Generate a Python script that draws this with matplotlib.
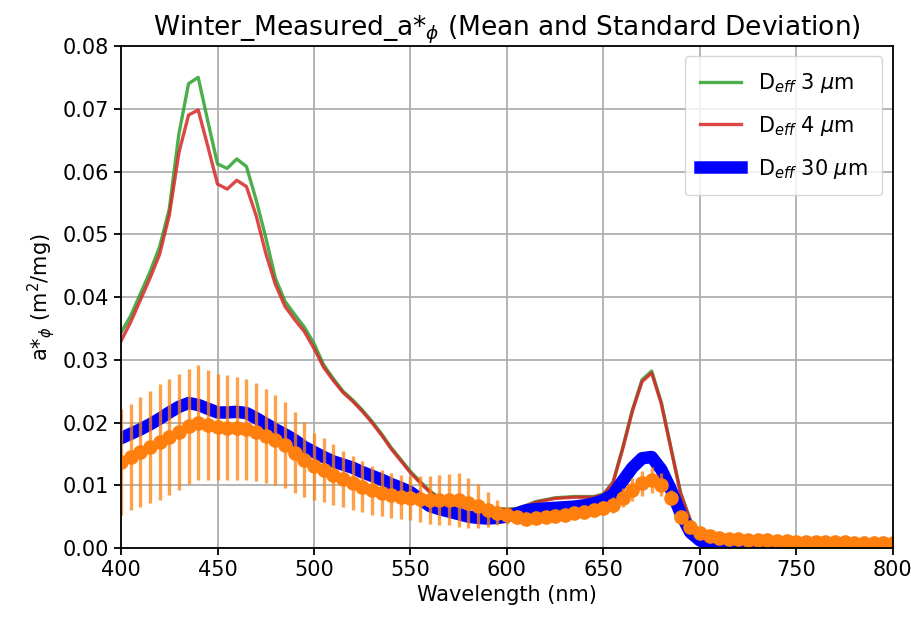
import numpy as np
import matplotlib
matplotlib.use('Agg')
from matplotlib import pyplot as plt

# wavelength grid (nm), 5 nm steps
wl = np.arange(400, 805, 5)

# D_eff 3 um (green)
d3 = [0.0343, 0.0370, 0.0405, 0.0440, 0.0480, 0.0540, 0.0660, 0.0740, 0.0750, 0.0680,
      0.0612, 0.0605, 0.0620, 0.0608, 0.0555, 0.0495, 0.0430, 0.0393, 0.0372, 0.0352,
      0.0326, 0.0292, 0.0270, 0.0250, 0.0236, 0.0220, 0.0202, 0.0182, 0.0160, 0.0141,
      0.0122, 0.0106, 0.0091, 0.0080, 0.0072, 0.0068, 0.0066, 0.0064, 0.0063, 0.0063,
      0.0062, 0.0063, 0.0068, 0.0074, 0.0077, 0.0080, 0.0081, 0.0082, 0.0082, 0.0082,
      0.0086, 0.0105, 0.0160, 0.0220, 0.0268, 0.0282, 0.0232, 0.0160, 0.0088, 0.0045,
      0.0025, 0.0016, 0.0011, 0.0009, 0.0008, 0.0007, 0.0007, 0.0006, 0.0006, 0.0006,
      0.0005, 0.0005, 0.0005, 0.0005, 0.0004, 0.0004, 0.0004, 0.0004, 0.0004, 0.0004,
      0.0004]

# D_eff 4 um (red)
d4 = [0.0330, 0.0360, 0.0395, 0.0430, 0.0468, 0.0530, 0.0630, 0.0690, 0.0698, 0.0640,
      0.0580, 0.0572, 0.0586, 0.0576, 0.0530, 0.0470, 0.0420, 0.0385, 0.0364, 0.0345,
      0.0318, 0.0288, 0.0267, 0.0248, 0.0234, 0.0218, 0.0200, 0.0180, 0.0158, 0.0139,
      0.0120, 0.0104, 0.0089, 0.0079, 0.0071, 0.0067, 0.0065, 0.0063, 0.0062, 0.0062,
      0.0061, 0.0062, 0.0067, 0.0073, 0.0076, 0.0079, 0.0080, 0.0081, 0.0081, 0.0081,
      0.0085, 0.0104, 0.0158, 0.0218, 0.0265, 0.0279, 0.0230, 0.0158, 0.0087, 0.0044,
      0.0024, 0.0015, 0.0010, 0.0008, 0.0007, 0.0006, 0.0006, 0.0005, 0.0005, 0.0005,
      0.0004, 0.0004, 0.0004, 0.0004, 0.0003, 0.0003, 0.0003, 0.0003, 0.0003, 0.0003,
      0.0003]

# D_eff 30 um (blue)
d30 = [0.0175, 0.0182, 0.0189, 0.0197, 0.0206, 0.0216, 0.0225, 0.0231, 0.0228, 0.0222,
       0.0216, 0.0216, 0.0217, 0.0215, 0.0207, 0.0198, 0.0189, 0.0181, 0.0172, 0.0161,
       0.0153, 0.0145, 0.0138, 0.0133, 0.0128, 0.0121, 0.0115, 0.0109, 0.0102, 0.0096,
       0.0089, 0.0078, 0.0067, 0.0062, 0.0058, 0.0054, 0.0050, 0.0048, 0.0047, 0.0048,
       0.0050, 0.0055, 0.0060, 0.0062, 0.0063, 0.0064, 0.0065, 0.0066, 0.0068, 0.0071,
       0.0076, 0.0085, 0.0107, 0.0128, 0.0143, 0.0145, 0.0125, 0.0093, 0.0055, 0.0025,
       0.0012, 0.0007, 0.0004, 0.0003, 0.0002, 0.0002, 0.0002, 0.0001, 0.0001, 0.0001,
       0.0001, 0.0001, 0.0001, 0.0001, 0.0001, 0.0001, 0.0001, 0.0001, 0.0001, 0.0001,
       0.0001]

# measured mean and standard deviation (orange)
meas_mean = [0.0137, 0.0145, 0.0153, 0.0161, 0.0169, 0.0177, 0.0185, 0.0194, 0.0200, 0.0196,
             0.0193, 0.0192, 0.0191, 0.0189, 0.0185, 0.0179, 0.0172, 0.0164, 0.0152, 0.0141,
             0.0130, 0.0124, 0.0117, 0.0110, 0.0104, 0.0098, 0.0092, 0.0088, 0.0084, 0.0081,
             0.0079, 0.0078, 0.0077, 0.0077, 0.0077, 0.0076, 0.0072, 0.0067, 0.0061, 0.0056,
             0.0052, 0.0049, 0.0047, 0.0048, 0.0050, 0.0051, 0.0053, 0.0055, 0.0057, 0.0060,
             0.0064, 0.0068, 0.0080, 0.0093, 0.0103, 0.0108, 0.0101, 0.0080, 0.0050, 0.0034,
             0.0024, 0.0019, 0.0016, 0.0015, 0.0014, 0.0013, 0.0013, 0.0012, 0.0011, 0.0011,
             0.0010, 0.0010, 0.0010, 0.0010, 0.0009, 0.0009, 0.0008, 0.0008, 0.0008, 0.0008,
             0.0008]
meas_std = [0.0085, 0.0085, 0.0087, 0.0090, 0.0092, 0.0092, 0.0092, 0.0092, 0.0092, 0.0088,
            0.0085, 0.0083, 0.0082, 0.0080, 0.0078, 0.0075, 0.0072, 0.0068, 0.0064, 0.0060,
            0.0054, 0.0051, 0.0048, 0.0045, 0.0043, 0.0041, 0.0039, 0.0037, 0.0036, 0.0035,
            0.0035, 0.0036, 0.0038, 0.0040, 0.0041, 0.0043, 0.0040, 0.0035, 0.0028, 0.0020,
            0.0014, 0.0010, 0.0009, 0.0009, 0.0009, 0.0009, 0.0009, 0.0009, 0.0009, 0.0010,
            0.0011, 0.0013, 0.0015, 0.0018, 0.0020, 0.0021, 0.0018, 0.0012, 0.0008, 0.0005,
            0.0003, 0.0003, 0.0003, 0.0003, 0.0003, 0.0003, 0.0003, 0.0003, 0.0003, 0.0003,
            0.0003, 0.0003, 0.0003, 0.0003, 0.0003, 0.0003, 0.0003, 0.0003, 0.0003, 0.0003,
            0.0003]

plt.rcParams['font.size'] = 15

fig = plt.figure(figsize=(9.12, 6.26), dpi=100)
ax = fig.add_axes([0.1327, 0.1246, 0.8463, 0.8019])

ax.plot(wl, d3, color='tab:green', lw=2.4, alpha=0.85, label=r'D$_{eff}$ 3 $\mu$m')
ax.plot(wl, d4, color='tab:red', lw=2.4, alpha=0.85, label=r'D$_{eff}$ 4 $\mu$m')
ax.plot(wl, d30, color='blue', lw=9, label=r'D$_{eff}$ 30 $\mu$m')
ax.errorbar(wl, meas_mean, yerr=meas_std, fmt='o', color='#ff7f0e', ms=9.5,
            ecolor=(1.0, 0.5, 0.05, 0.75), elinewidth=2.4)

ax.set_xlim(400, 800)
ax.set_ylim(0, 0.08)
ax.grid(True, color='#b0b0b0', lw=1.3)
ax.tick_params(width=1.3, length=5)
for s in ax.spines.values():
    s.set_linewidth(1.3)
ax.set_xlabel('Wavelength (nm)')
ax.set_ylabel(r'a*$_\phi$ (m$^2$/mg)')
ax.set_title(r'Winter_Measured_a*$_\phi$ (Mean and Standard Deviation)', fontsize=19)
ax.legend(loc='upper right', borderpad=0.7, labelspacing=0.9)

fig.savefig('out.png', dpi=100)
